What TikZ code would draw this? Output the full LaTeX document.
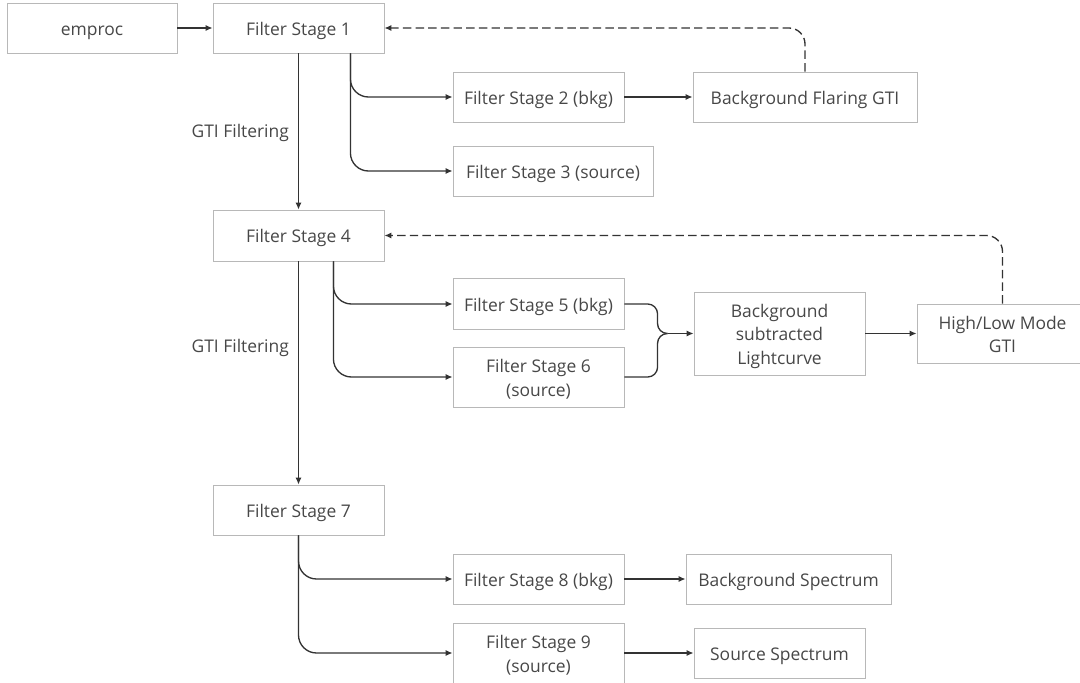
\documentclass[tikz,border=0pt]{standalone}
\usepackage{fontspec}
\setmainfont{Open Sans}
\usetikzlibrary{arrows.meta}

\begin{document}
\begin{tikzpicture}[x=0.025cm, y=-0.025cm,
    box/.style={rectangle, draw=black!28, line width=0.6pt, text=black!72, align=center,
        minimum width=4.275cm, minimum height=1.25cm, inner sep=0pt,
        text height=11.4pt, text depth=0.8pt,
        font=\fontsize{12.4}{17}\selectfont},
    two/.style={text height=28.4pt},
    three/.style={text height=45.4pt},
    line/.style={draw=black!80, line width=0.95pt},
    flow/.style={line, -{Latex[length=5pt, width=4.5pt]}},
    fb/.style={flow, dash pattern=on 6pt off 3pt},
    lbl/.style={left=3pt, text=black!72, font=\fontsize{12.4}{15}\selectfont}]
    \useasboundingbox (0,0) rectangle (1080,683);

    % boxes
    \node[box, minimum width=4.25cm] (emproc) at (92,28) {emproc};
    \node[box] (fs1) at (298.5,28) {Filter Stage 1};
    \node[box] (fs2) at (538.5,97) {Filter Stage 2 (bkg)};
    \node[box, minimum width=5.6cm] (bfg) at (805,97) {Background Flaring GTI};
    \node[box, minimum width=5cm] (fs3) at (553,171) {Filter Stage 3 (source)};
    \node[box, minimum height=1.275cm] (fs4) at (298.5,235.5) {Filter Stage 4};
    \node[box, minimum height=1.275cm] (fs5) at (538.5,304) {Filter Stage 5 (bkg)};
    \node[box, two, minimum height=1.5cm] (fs6) at (538.5,377) {Filter Stage 6\\(source)};
    \node[box, three, minimum height=2.075cm] (lc) at (779.5,333.5) {Background\\subtracted\\Lightcurve};
    \node[box, two, minimum height=1.475cm] (hl) at (1002.5,333.5) {High/Low Mode\\GTI};
    \node[box] (fs7) at (298.5,510) {Filter Stage 7};
    \node[box] (fs8) at (538.5,579) {Filter Stage 8 (bkg)};
    \node[box, two, minimum height=1.5cm] (fs9) at (538.5,653) {Filter Stage 9\\(source)};
    \node[box, minimum width=5.125cm] (bs) at (788.5,579) {Background Spectrum};
    \node[box] (ss) at (779.5,653) {Source Spectrum};

    % stage 1
    \draw[flow] (emproc) -- (fs1);
    \draw[flow] (fs1) -- node[lbl, pos=0.51] {GTI Filtering} (fs4);
    \draw[flow, rounded corners=0.45cm] ([xshift=-0.85cm]fs1.south east) |- (fs2.west);
    \draw[flow, rounded corners=0.45cm] ([xshift=-0.85cm]fs1.south east) |- (fs3.west);
    \draw[flow] (fs2) -- (bfg);
    \draw[fb, rounded corners=0.4cm] (bfg.north) |- (fs1.east);

    % stage 4
    \draw[flow] (fs4) -- node[lbl, pos=0.39] {GTI Filtering} (fs7);
    \draw[flow, rounded corners=0.45cm] ([xshift=-1.275cm]fs4.south east) |- (fs5.west);
    \draw[flow, rounded corners=0.45cm] ([xshift=-1.275cm]fs4.south east) |- (fs6.west);
    \coordinate (join) at ([xshift=-0.65cm]lc.west);
    \draw[line, rounded corners=7pt] (fs5.east) -| ([xshift=-0.25cm]join) -- (join);
    \draw[line, rounded corners=7pt] (fs6.east) -| ([xshift=-0.25cm]join) -- (join);
    \draw[flow] (join) -- (lc);
    \draw[flow] (lc) -- (hl);
    \draw[fb, rounded corners=0.4cm] (hl.north) |- (fs4.east);

    % stage 7
    \draw[flow, rounded corners=0.45cm] (fs7.south) |- (fs8.west);
    \draw[flow, rounded corners=0.45cm] (fs7.south) |- (fs9.west);
    \draw[flow] (fs8) -- (bs);
    \draw[flow] (fs9) -- (ss);
\end{tikzpicture}
\end{document}
